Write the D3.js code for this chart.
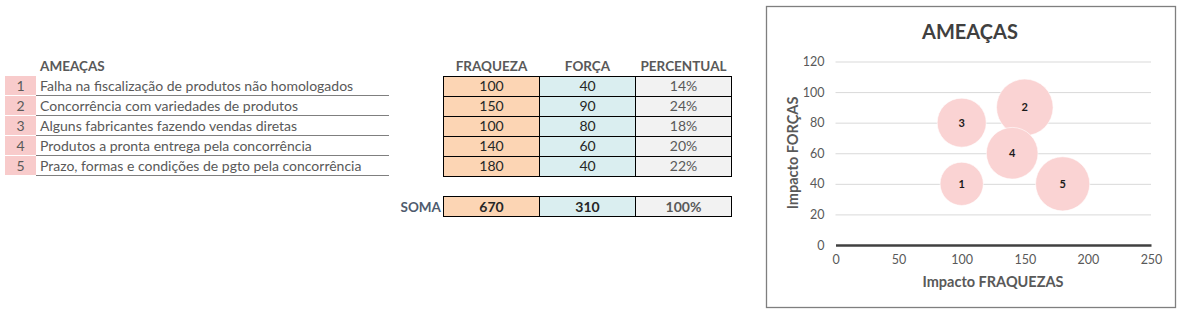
<!DOCTYPE html>
<html lang="pt">
<head>
<meta charset="UTF-8">
<title>AMEAÇAS</title>
<script src="https://d3js.org/d3.v7.min.js"></script>
<style>
    body { margin: 0; background: #fff; }
    svg text { font-family: Lato, "Open Sans", sans-serif; }
    .cell-txt { font-size: 14px; }
    .head { font-size: 13.5px; font-weight: bold; fill: #595959; }
    .tick text { font-size: 12.5px; fill: #595959; }
</style>
</head>
<body>
<svg id="page" width="1178" height="314"></svg>
<script>
// table + chart data
const ids = ["1", "2", "3", "4", "5"];
const threats = [
    "Falha na fiscalização de produtos não homologados",
    "Concorrência com variedades de produtos",
    "Alguns fabricantes fazendo vendas diretas",
    "Produtos a pronta entrega pela concorrência",
    "Prazo, formas e condições de pgto pela concorrência"
];
const fraqueza = [100, 150, 100, 140, 180];
const forca = [40, 90, 80, 60, 40];
const percentual = [14, 24, 18, 20, 22];
const totals = ["670", "310", "100%"];
const colHeads = ["FRAQUEZA", "FORÇA", "PERCENTUAL"];
const xTicks = [0, 50, 100, 150, 200, 250];
const yTicks = [0, 20, 40, 60, 80, 100, 120];

const svg = d3.select("#page");

// ---- left list ----
const rowY = d3.scaleBand().domain(ids).range([76, 176]);
const list = svg.append("g");

list.append("text").attr("class", "head")
    .attr("x", 40).attr("y", 71).text("AMEAÇAS");

const rows = list.selectAll("g.row").data(ids).join("g")
    .attr("class", "row")
    .attr("transform", d => `translate(0,${rowY(d)})`);

rows.append("rect")
    .attr("x", 5).attr("width", 31).attr("height", rowY.bandwidth() - 1)
    .attr("fill", "#f8cbcb");
rows.append("text").attr("class", "cell-txt")
    .attr("x", 20.5).attr("y", 15).attr("text-anchor", "middle")
    .attr("fill", "#595959").text(d => d);
rows.append("text").attr("class", "cell-txt")
    .attr("x", 40).attr("y", 15).attr("fill", "#595959")
    .text((d, i) => threats[i]);
rows.append("line")
    .attr("x1", 36).attr("x2", 389)
    .attr("y1", rowY.bandwidth() - 0.5).attr("y2", rowY.bandwidth() - 0.5)
    .attr("stroke", "#7f7f7f");

// ---- values table ----
const colX = d3.scaleBand().domain(colHeads).range([443.5, 731.5]);
const colFill = ["#fcd5b4", "#daeef0", "#f2f2f2"];
const colVals = [fraqueza.map(String), forca.map(String), percentual.map(v => v + "%")];
const tbl = svg.append("g");

tbl.selectAll("text.colhead").data(colHeads).join("text")
    .attr("class", "head")
    .attr("x", d => colX(d) + colX.bandwidth() / 2).attr("y", 71)
    .attr("text-anchor", "middle").text(d => d);

colHeads.forEach((c, ci) => {
    ids.forEach((id, ri) => {
        tbl.append("rect")
            .attr("x", colX(c)).attr("y", rowY(id) + 0.5)
            .attr("width", colX.bandwidth()).attr("height", rowY.bandwidth())
            .attr("fill", colFill[ci]).attr("stroke", "#000").attr("stroke-width", 1);
        tbl.append("text").attr("class", "cell-txt")
            .attr("x", colX(c) + colX.bandwidth() / 2).attr("y", rowY(id) + 15)
            .attr("text-anchor", "middle")
            .attr("fill", ci === 2 ? "#595959" : "#262626")
            .text(colVals[ci][ri]);
    });
    tbl.append("rect")
        .attr("x", colX(c)).attr("y", 196.5)
        .attr("width", colX.bandwidth()).attr("height", 20)
        .attr("fill", colFill[ci]).attr("stroke", "#000").attr("stroke-width", 1);
    tbl.append("text").attr("class", "cell-txt")
        .attr("x", colX(c) + colX.bandwidth() / 2).attr("y", 211.5)
        .attr("text-anchor", "middle").attr("font-weight", "bold")
        .attr("fill", ci === 2 ? "#595959" : "#262626")
        .text(totals[ci]);
});
tbl.append("text").attr("class", "head")
    .attr("x", 441).attr("y", 211.5).attr("text-anchor", "end")
    .style("fill", "#4f5b6e").text("SOMA");

// ---- bubble chart ----
svg.append("rect")
    .attr("x", 766.5).attr("y", 6.5).attr("width", 409).attr("height", 301)
    .attr("fill", "#fff").attr("stroke", "#7f7f7f").attr("stroke-width", 1.3);

const x = d3.scaleLinear().domain([0, 250]).range([835.5, 1151]);
const y = d3.scaleLinear().domain([0, 120]).range([245, 61.5]);
const r = d3.scaleSqrt().domain([0, 24]).range([0, 28.3]);

svg.append("text")
    .attr("x", 970).attr("y", 39).attr("text-anchor", "middle")
    .attr("font-size", "20px").attr("font-weight", "bold").attr("fill", "#404040")
    .text("AMEAÇAS");

// gridlines
svg.append("g").selectAll("line").data(yTicks.filter(t => t > 0)).join("line")
    .attr("x1", x(0)).attr("x2", x(250))
    .attr("y1", d => y(d) + 0.5).attr("y2", d => y(d) + 0.5)
    .attr("stroke", "#d9d9d9").attr("stroke-width", 1);

const yAxis = svg.append("g")
    .attr("transform", `translate(${x(0) - 8},0)`)
    .call(d3.axisLeft(y).tickValues(yTicks).tickSize(0).tickPadding(3));
yAxis.select(".domain").remove();

const xAxis = svg.append("g")
    .attr("transform", `translate(0,${y(0)})`)
    .call(d3.axisBottom(x).tickValues(xTicks).tickSize(0).tickPadding(10));
xAxis.select(".domain").attr("stroke", "#404040").attr("stroke-width", 2.5);

svg.append("text")
    .attr("x", 993).attr("y", 287).attr("text-anchor", "middle")
    .attr("font-size", "14.5px").attr("font-weight", "bold").attr("fill", "#595959")
    .text("Impacto FRAQUEZAS");
svg.append("text")
    .attr("transform", `translate(798,153) rotate(-90)`)
    .attr("text-anchor", "middle")
    .attr("font-size", "14.5px").attr("font-weight", "bold").attr("fill", "#595959")
    .text("Impacto FORÇAS");

const bubbles = svg.append("g").selectAll("g").data(ids).join("g")
    .attr("transform", (d, i) => `translate(${x(fraqueza[i])},${y(forca[i])})`);
bubbles.append("circle")
    .attr("r", (d, i) => r(percentual[i]))
    .attr("fill", "#fad3d3").attr("stroke", "#fff").attr("stroke-width", 0.6);
bubbles.append("text")
    .attr("text-anchor", "middle").attr("dy", "0.35em")
    .attr("font-size", "11px").attr("font-weight", "bold").attr("fill", "#1a1a1a")
    .text(d => d);
</script>
</body>
</html>
